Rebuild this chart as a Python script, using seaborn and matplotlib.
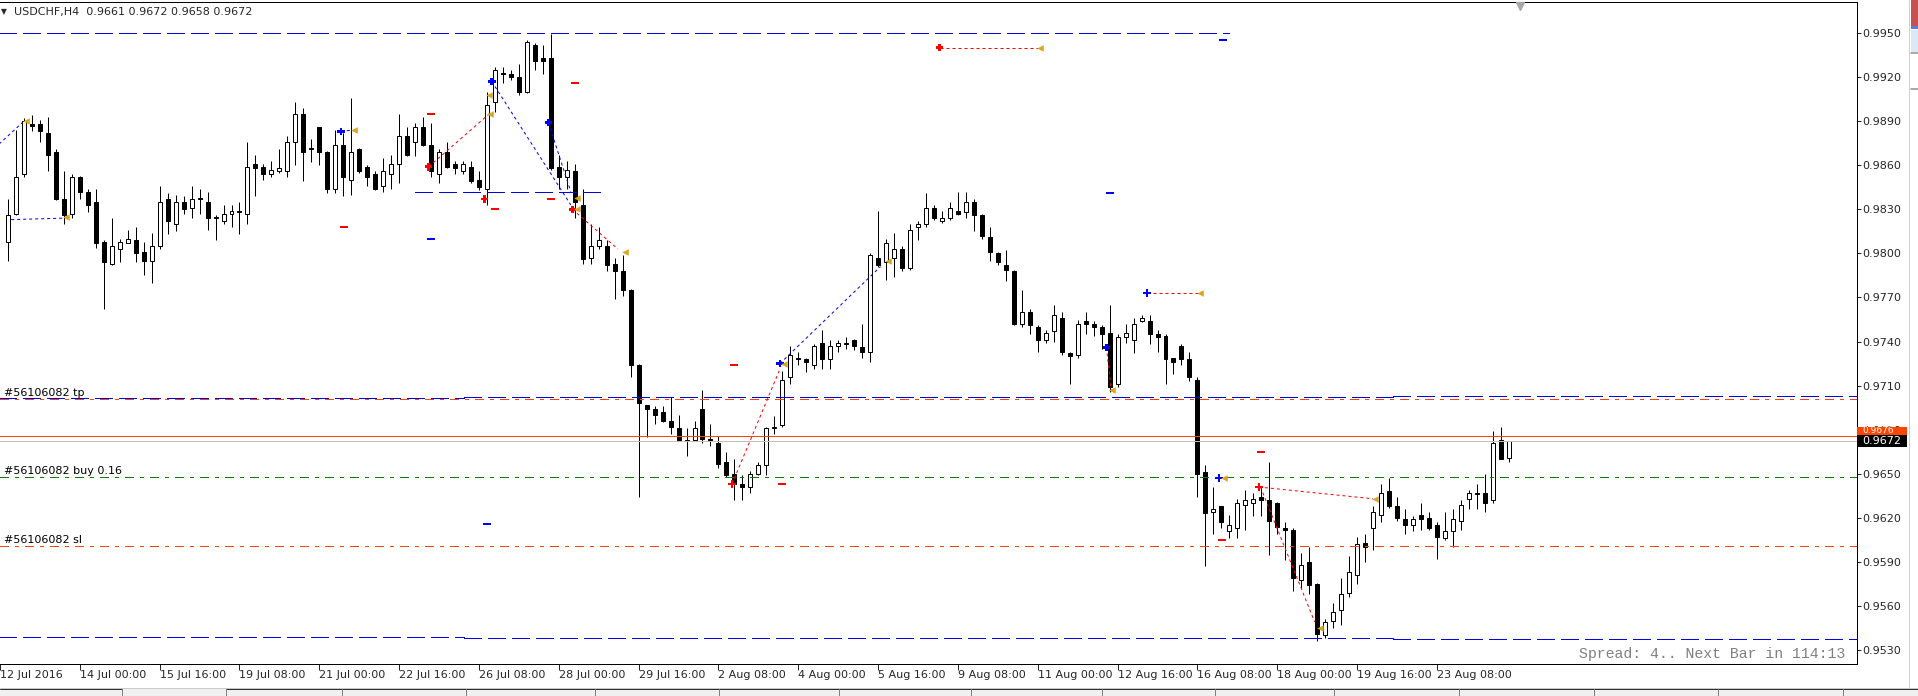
import numpy as np
import pandas as pd
import matplotlib
matplotlib.use("Agg")
import matplotlib.pyplot as plt
import matplotlib.transforms as mtransforms
from matplotlib.patches import Rectangle
from matplotlib.lines import Line2D
import seaborn as sns

# USDCHF H4 candles, bar index 0 = 14 Jul 2016 00:00
first_bar = -9
opens = [0.9808, 0.9827, 0.9854, 0.9888, 0.9888, 0.9882, 0.9869, 0.9837, 0.9827,
         0.9852, 0.9842, 0.9835, 0.9808, 0.9793, 0.9803, 0.9807, 0.9809, 0.9801, 0.9795,
         0.9805, 0.9837, 0.9820, 0.9835, 0.9831, 0.9838, 0.9835, 0.9825, 0.9822, 0.9827,
         0.9829, 0.9827, 0.9861, 0.9859, 0.9854, 0.9856, 0.9856, 0.9876, 0.9895, 0.9872,
         0.9886, 0.9869, 0.9844, 0.9874, 0.9850, 0.9871, 0.9859, 0.9854, 0.9846, 0.9854,
         0.9861, 0.9880, 0.9876, 0.9886, 0.9874, 0.9854, 0.9869, 0.9861, 0.9856, 0.9859,
         0.9850, 0.9844, 0.9903, 0.9923, 0.9922, 0.9920, 0.9910, 0.9942, 0.9933, 0.9933,
         0.9859, 0.9852, 0.9856, 0.9833, 0.9797, 0.9805, 0.9805, 0.9793, 0.9788, 0.9775,
         0.9724, 0.9697, 0.9694, 0.9692, 0.9686, 0.9681, 0.9673, 0.9673, 0.9694, 0.9674,
         0.9671, 0.9658, 0.9650, 0.9643, 0.9641, 0.9650, 0.9656, 0.9681, 0.9683, 0.9716,
         0.9729, 0.9728, 0.9724, 0.9739, 0.9728, 0.9737, 0.9739, 0.9741, 0.9736, 0.9733,
         0.9797, 0.9794, 0.9797, 0.9803, 0.9790, 0.9818, 0.9820, 0.9831, 0.9822, 0.9824,
         0.9829, 0.9828, 0.9835, 0.9826, 0.9811, 0.9800, 0.9792, 0.9788, 0.9752, 0.9760,
         0.9750, 0.9741, 0.9747, 0.9756, 0.9732, 0.9731, 0.9754, 0.9752, 0.9750, 0.9746,
         0.9711, 0.9743, 0.9741, 0.9754, 0.9754, 0.9745, 0.9744, 0.9729, 0.9737, 0.9728,
         0.9714, 0.9651, 0.9624, 0.9628, 0.9611, 0.9613, 0.9629, 0.9630, 0.9634, 0.9632,
         0.9630, 0.9613, 0.9612, 0.9578, 0.9590, 0.9575, 0.9540, 0.9550, 0.9557, 0.9569,
         0.9581, 0.9603, 0.9613, 0.9622, 0.9638, 0.9628, 0.9619, 0.9615, 0.9622, 0.9620,
         0.9615, 0.9606, 0.9611, 0.9618, 0.9633, 0.9637, 0.9637, 0.9632, 0.9673, 0.9661]
highs = [0.9837, 0.9884, 0.9892, 0.9894, 0.9891, 0.9893, 0.9871, 0.9856, 0.9854,
         0.9853, 0.9844, 0.9844, 0.9809, 0.9824, 0.9810, 0.9816, 0.9818, 0.9808, 0.9814,
         0.9846, 0.9841, 0.9840, 0.9839, 0.9846, 0.9844, 0.9842, 0.9826, 0.9833, 0.9833,
         0.9835, 0.9876, 0.9867, 0.9861, 0.9863, 0.9871, 0.9880, 0.9903, 0.9899, 0.9878,
         0.9886, 0.9870, 0.9884, 0.9882, 0.9906, 0.9872, 0.9860, 0.9856, 0.9865, 0.9867,
         0.9895, 0.9886, 0.9889, 0.9893, 0.9889, 0.9871, 0.9876, 0.9863, 0.9863, 0.9863,
         0.9856, 0.9910, 0.9927, 0.9927, 0.9925, 0.9929, 0.9945, 0.9943, 0.9942, 0.9949,
         0.9867, 0.9863, 0.9861, 0.9844, 0.9820, 0.9818, 0.9809, 0.9797, 0.9799, 0.9776,
         0.9725, 0.9697, 0.9696, 0.9696, 0.9702, 0.9690, 0.9681, 0.9686, 0.9707, 0.9684,
         0.9676, 0.9665, 0.9660, 0.9649, 0.9652, 0.9658, 0.9682, 0.9689, 0.9720, 0.9737,
         0.9733, 0.9729, 0.9738, 0.9748, 0.9741, 0.9741, 0.9743, 0.9742, 0.9752, 0.9800,
         0.9829, 0.9810, 0.9814, 0.9805, 0.9820, 0.9822, 0.9841, 0.9833, 0.9829, 0.9835,
         0.9842, 0.9842, 0.9837, 0.9827, 0.9818, 0.9801, 0.9802, 0.9789, 0.9775, 0.9762,
         0.9751, 0.9748, 0.9765, 0.9760, 0.9733, 0.9755, 0.9760, 0.9754, 0.9751, 0.9765,
         0.9745, 0.9752, 0.9756, 0.9758, 0.9758, 0.9748, 0.9745, 0.9729, 0.9738, 0.9733,
         0.9716, 0.9656, 0.9641, 0.9628, 0.9622, 0.9633, 0.9639, 0.9637, 0.9641, 0.9658,
         0.9631, 0.9617, 0.9613, 0.9596, 0.9600, 0.9576, 0.9551, 0.9562, 0.9579, 0.9594,
         0.9607, 0.9609, 0.9628, 0.9643, 0.9647, 0.9634, 0.9626, 0.9621, 0.9630, 0.9624,
         0.9617, 0.9624, 0.9626, 0.9632, 0.9639, 0.9643, 0.9650, 0.9679, 0.9682, 0.9672]
lows = [0.9795, 0.9826, 0.9852, 0.9883, 0.9876, 0.9856, 0.9836, 0.9820, 0.9824,
        0.9837, 0.9828, 0.9804, 0.9762, 0.9792, 0.9794, 0.9807, 0.9794, 0.9785, 0.9780,
        0.9803, 0.9813, 0.9815, 0.9827, 0.9824, 0.9827, 0.9816, 0.9809, 0.9820, 0.9818,
        0.9813, 0.9820, 0.9839, 0.9850, 0.9852, 0.9855, 0.9852, 0.9860, 0.9849, 0.9862,
        0.9860, 0.9841, 0.9841, 0.9839, 0.9840, 0.9855, 0.9846, 0.9843, 0.9842, 0.9844,
        0.9848, 0.9866, 0.9866, 0.9873, 0.9852, 0.9848, 0.9858, 0.9854, 0.9854, 0.9848,
        0.9843, 0.9833, 0.9896, 0.9916, 0.9918, 0.9908, 0.9909, 0.9925, 0.9922, 0.9857,
        0.9844, 0.9844, 0.9824, 0.9793, 0.9793, 0.9803, 0.9788, 0.9769, 0.9771, 0.9716,
        0.9634, 0.9675, 0.9684, 0.9685, 0.9677, 0.9672, 0.9662, 0.9672, 0.9671, 0.9669,
        0.9654, 0.9648, 0.9632, 0.9632, 0.9637, 0.9649, 0.9649, 0.9677, 0.9682, 0.9711,
        0.9724, 0.9719, 0.9721, 0.9721, 0.9721, 0.9733, 0.9735, 0.9734, 0.9729, 0.9726,
        0.9791, 0.9782, 0.9784, 0.9788, 0.9789, 0.9809, 0.9818, 0.9823, 0.9821, 0.9823,
        0.9826, 0.9824, 0.9815, 0.9810, 0.9795, 0.9792, 0.9781, 0.9751, 0.9750, 0.9745,
        0.9733, 0.9739, 0.9740, 0.9731, 0.9711, 0.9729, 0.9745, 0.9744, 0.9735, 0.9706,
        0.9709, 0.9739, 0.9732, 0.9753, 0.9738, 0.9733, 0.9711, 0.9718, 0.9724, 0.9713,
        0.9634, 0.9587, 0.9609, 0.9613, 0.9606, 0.9606, 0.9612, 0.9621, 0.9621, 0.9595,
        0.9609, 0.9591, 0.9570, 0.9572, 0.9568, 0.9536, 0.9538, 0.9545, 0.9547, 0.9566,
        0.9575, 0.9590, 0.9598, 0.9617, 0.9627, 0.9618, 0.9609, 0.9611, 0.9612, 0.9612,
        0.9592, 0.9605, 0.9600, 0.9612, 0.9626, 0.9626, 0.9624, 0.9630, 0.9660, 0.9658]
closes = [0.9826, 0.9852, 0.9890, 0.9887, 0.9883, 0.9867, 0.9837, 0.9826, 0.9852,
          0.9842, 0.9833, 0.9807, 0.9794, 0.9805, 0.9808, 0.9810, 0.9800, 0.9795, 0.9805,
          0.9835, 0.9822, 0.9835, 0.9830, 0.9837, 0.9837, 0.9824, 0.9824, 0.9827, 0.9829,
          0.9828, 0.9859, 0.9858, 0.9854, 0.9857, 0.9858, 0.9876, 0.9895, 0.9869, 0.9871,
          0.9869, 0.9844, 0.9874, 0.9852, 0.9869, 0.9856, 0.9852, 0.9844, 0.9856, 0.9861,
          0.9880, 0.9867, 0.9886, 0.9874, 0.9856, 0.9869, 0.9859, 0.9858, 0.9861, 0.9849,
          0.9845, 0.9901, 0.9925, 0.9922, 0.9920, 0.9910, 0.9944, 0.9931, 0.9931, 0.9858,
          0.9852, 0.9857, 0.9835, 0.9796, 0.9805, 0.9809, 0.9792, 0.9788, 0.9775, 0.9724,
          0.9698, 0.9694, 0.9690, 0.9686, 0.9682, 0.9673, 0.9672, 0.9681, 0.9674, 0.9673,
          0.9657, 0.9649, 0.9643, 0.9641, 0.9650, 0.9656, 0.9681, 0.9682, 0.9714, 0.9731,
          0.9728, 0.9726, 0.9737, 0.9728, 0.9737, 0.9739, 0.9738, 0.9737, 0.9733, 0.9799,
          0.9792, 0.9807, 0.9803, 0.9790, 0.9816, 0.9820, 0.9831, 0.9824, 0.9824, 0.9831,
          0.9827, 0.9835, 0.9826, 0.9812, 0.9801, 0.9794, 0.9789, 0.9752, 0.9760, 0.9751,
          0.9741, 0.9746, 0.9758, 0.9733, 0.9730, 0.9752, 0.9752, 0.9750, 0.9745, 0.9709,
          0.9743, 0.9746, 0.9752, 0.9756, 0.9745, 0.9743, 0.9728, 0.9726, 0.9728, 0.9716,
          0.9650, 0.9623, 0.9626, 0.9617, 0.9615, 0.9630, 0.9632, 0.9633, 0.9632, 0.9618,
          0.9614, 0.9612, 0.9579, 0.9588, 0.9574, 0.9541, 0.9549, 0.9556, 0.9568, 0.9583,
          0.9602, 0.9600, 0.9624, 0.9637, 0.9628, 0.9620, 0.9615, 0.9619, 0.9619, 0.9613,
          0.9607, 0.9611, 0.9619, 0.9629, 0.9637, 0.9636, 0.9630, 0.9671, 0.9660, 0.9672]

x_tick_bars = list(range(-10, 171, 10))
x_tick_labels = ["12 Jul 2016", "14 Jul 00:00", "15 Jul 16:00", "19 Jul 08:00", "21 Jul 00:00",
                 "22 Jul 16:00", "26 Jul 08:00", "28 Jul 00:00", "29 Jul 16:00", "2 Aug 08:00",
                 "4 Aug 00:00", "5 Aug 16:00", "9 Aug 08:00", "11 Aug 00:00", "12 Aug 16:00",
                 "16 Aug 08:00", "18 Aug 00:00", "19 Aug 16:00", "23 Aug 08:00"]
y_ticks = [0.9530, 0.9560, 0.9590, 0.9620, 0.9650, 0.9680, 0.9710, 0.9740, 0.9770,
           0.9800, 0.9830, 0.9860, 0.9890, 0.9920, 0.9950]

# order lines
tp_price = 0.9701
buy_price = 0.9648
sl_price = 0.9601
ask_price = 0.9676
bid_price = 0.9672

# blue dashed channel / level objects
level_x0 = [-12.0, -12.0, 48.1, 164.5, -12.0, 48.1, 164.5, 42.0]
level_x1 = [144.0, 48.1, 164.5, 230.0, 48.1, 164.5, 230.0, 65.3]
level_p = [0.9950, 0.97014, 0.97021, 0.97028, 0.95387, 0.95380, 0.95374, 0.9842]

# trade history (open -> close)
trade_x0 = [-11.0, -8.6, 32.7, 43.7, 51.6, 58.7, 61.7, 81.7, 87.7, 107.7, 128.6, 133.7, 142.7, 147.7, 147.9]
trade_p0 = [0.9870, 0.9823, 0.9883, 0.9859, 0.9917, 0.9889, 0.9830, 0.9643, 0.9725, 0.9940, 0.9736, 0.9773, 0.9647, 0.9641, 0.9641]
trade_x1 = [-7.2, -2.0, 34.2, 51.3, 61.5, 61.5, 67.4, 87.6, 100.3, 120.1, 129.2, 140.1, 143.1, 162.0, 154.7]
trade_p1 = [0.9889, 0.9824, 0.9884, 0.9895, 0.9833, 0.9842, 0.9803, 0.9720, 0.9791, 0.9940, 0.9707, 0.9773, 0.9647, 0.9633, 0.9549]
trade_side = ["buy", "buy", "buy", "sell", "buy", "buy", "sell", "sell", "buy", "sell", "sell", "sell", "buy", "sell", "sell"]

open_x = [32.7, 43.7, 50.7, 51.6, 58.7, 61.7, 81.7, 87.7, 107.7, 128.6, 133.7, 142.7, 147.7]
open_p = [0.9883, 0.9859, 0.9837, 0.9917, 0.9889, 0.9830, 0.9643, 0.9725, 0.9940, 0.9736, 0.9773, 0.9647, 0.9641]
open_side = ["buy", "sell", "sell", "buy", "buy", "sell", "sell", "buy", "sell", "buy", "buy", "buy", "sell"]

close_x = [-6.7, -1.7, 34.3, 51.4, 51.2, 62.25, 62.25, 68.25, 88.2, 101.3, 120.25, 129.3, 140.3, 143.3, 155.4, 162.25]
close_p = [0.9890, 0.9825, 0.9884, 0.9895, 0.9908, 0.9838, 0.9830, 0.9801, 0.9725, 0.9795, 0.9940, 0.9707, 0.9773, 0.9647, 0.9545, 0.9633]

stop_x = [33.1, 44.0, 52.0, 59.0, 62.0, 82.0, 88.0, 143.1, 148.0]
stop_p = [0.9818, 0.9895, 0.9830, 0.9837, 0.9916, 0.9724, 0.9643, 0.9605, 0.9665]
target_x = [44.0, 51.0, 129.0, 143.2]
target_p = [0.9810, 0.9616, 0.9841, 0.9945]

W, H = 1918, 696
BLUE = "#0000e6"
ORANGE = "#ff4500"
GREEN = "#008000"
GOLD = "#daa520"
PX = 0.72  # one pixel in points

sns.set_style("white")
plt.rcParams["font.family"] = ["DejaVu Sans"]
plt.rcParams["lines.scale_dashes"] = False
DASH = (0, (18 * PX, 6 * PX))
DASHDOT = (0, (9 * PX, 6 * PX, 3 * PX, 6 * PX))
DOT = (0, (3 * PX, 3 * PX))

fig = plt.figure(figsize=(W / 100, H / 100), dpi=100)
ax = fig.add_axes([0, 32 / H, 1856.5 / W, 662.5 / H])
ax.set_xlim(-9.5, 222.56)
ax.set_ylim(0.952054, 0.997144)

df = pd.DataFrame({"open": opens, "high": highs, "low": lows, "close": closes})
df["bar"] = np.arange(first_bar, first_bar + len(df))
df["lo"] = df[["open", "close"]].min(axis=1)
df["h"] = (df["close"] - df["open"]).abs().clip(lower=0.00001)
up = df["close"] >= df["open"]

ax.vlines(df["bar"], df["low"], df["high"], color="black", lw=PX, zorder=2)
ax.bar(df.loc[up, "bar"], df.loc[up, "h"], bottom=df.loc[up, "lo"], width=0.5,
       color="white", edgecolor="black", linewidth=PX, zorder=3)
ax.bar(df.loc[~up, "bar"], df.loc[~up, "h"], bottom=df.loc[~up, "lo"], width=0.5,
       color="black", edgecolor="black", linewidth=PX, zorder=3)

# horizontal objects
ax.hlines(level_p, level_x0, level_x1, colors=BLUE, lw=PX, linestyles=[DASH],
          antialiased=False, zorder=4)
ax.axhline(tp_price, color=ORANGE, lw=PX, ls=DASHDOT, antialiased=False, zorder=4)
ax.axhline(buy_price, color=GREEN, lw=PX, ls=DASHDOT, antialiased=False, zorder=4)
ax.axhline(sl_price, color=ORANGE, lw=PX, ls=DASHDOT, antialiased=False, zorder=4)
ax.axhline(ask_price, color=ORANGE, lw=PX, antialiased=False, zorder=4)
ax.axhline(bid_price, color="#c0c0c0", lw=PX, antialiased=False, zorder=4)

# trade history
for x0, p0, x1, p1, side in zip(trade_x0, trade_p0, trade_x1, trade_p1, trade_side):
    ax.plot([x0, x1], [p0, p1], color=BLUE if side == "buy" else "#ff0000",
            lw=PX, ls=DOT, zorder=5)

sns.scatterplot(x=open_x, y=open_p, hue=open_side, palette={"buy": "#0000ff", "sell": "#ff0000"},
                marker="P", s=30, linewidth=0, legend=False, ax=ax, zorder=6)
sns.scatterplot(x=close_x, y=close_p, color=GOLD, marker="<", s=22, linewidth=0,
                legend=False, ax=ax, zorder=6)
sns.scatterplot(x=stop_x, y=stop_p, color="#ff0000", marker="_", s=30, linewidth=2 * PX,
                legend=False, ax=ax, zorder=6)
sns.scatterplot(x=target_x, y=target_p, color="#0000ff", marker="_", s=30, linewidth=2 * PX,
                legend=False, ax=ax, zorder=6)

# order line labels
trans = mtransforms.blended_transform_factory(ax.transAxes, ax.transData)
for txt, p in [("#56106082 tp", tp_price), ("#56106082 buy 0.16", buy_price),
               ("#56106082 sl", sl_price)]:
    ax.annotate(txt, xy=(0, p), xycoords=trans, xytext=(3.5 * PX, 2.5 * PX),
                textcoords="offset points", va="baseline", ha="left", fontsize=8, color="black")

# axes styling
for side in ["top", "right", "bottom"]:
    ax.spines[side].set_color("black")
    ax.spines[side].set_linewidth(PX)
ax.spines["left"].set_visible(False)
ax.set_xticks(x_tick_bars)
ax.set_xticklabels(x_tick_labels, ha="left", fontsize=8)
ax.set_yticks(y_ticks)
ax.set_yticklabels([f"{v:.4f}" for v in y_ticks], fontsize=8)
ax.tick_params(axis="x", bottom=True, direction="out", length=5.5 * PX, width=PX, pad=0.5)
ax.tick_params(axis="y", left=False, right=True, labelleft=False, labelright=True,
               direction="out", length=4 * PX, width=PX, pad=2 * PX)
ax.set_xlabel("")
ax.set_ylabel("")

# price tags on the right axis: the ask tag sits half hidden behind the bid tag
ppx = (ax.get_ylim()[1] - ax.get_ylim()[0]) / 662.5
ax.add_patch(Rectangle((1 + 0.5 / 1856.5, ask_price - 3 * ppx), 50 / 1856.5, 12 * ppx,
                       transform=trans, facecolor=ORANGE, edgecolor="none",
                       clip_on=False, zorder=10))
ax.text(1 + 6 / 1856.5, ask_price + 5 * ppx, f"{ask_price:.4f}", transform=trans,
        va="center", ha="left", fontsize=6.5, color="white", clip_on=False, zorder=11)
ax.add_patch(Rectangle((1 + 0.5 / 1856.5, bid_price - 6 * ppx), 50 / 1856.5, 12 * ppx,
                       transform=trans, facecolor="black", edgecolor="none",
                       clip_on=False, zorder=12))
ax.text(1 + 6 / 1856.5, bid_price, f"{bid_price:.4f}", transform=trans, va="center",
        ha="left", fontsize=8, color="white", clip_on=False, zorder=13)

# chart-shift marker
shift = mtransforms.blended_transform_factory(ax.transData, ax.transAxes)
ax.plot([180.4], [1 - 4 / 662.5], transform=shift, marker="v", ms=8 * PX,
        color="#a8a8a8", clip_on=False, zorder=10)

# header and status text
last = df.iloc[-1]
fig.text(1 / W, 1 - 12 / H, "\u25bc", fontsize=5.5, va="center", ha="left")
fig.text(14 / W, 1 - 12 / H,
         f"USDCHF,H4  {last['open']:.4f} {last['high']:.4f} {last['low']:.4f} {last['close']:.4f}",
         fontsize=8, va="center", ha="left")
fig.text(1845 / W, 1 - 654 / H, "Spread: 4.. Next Bar in 114:13", family="Liberation Mono",
         fontsize=10.7, color="#808080", va="center", ha="right")

# window chrome: tab strip and right side panel
fig.add_artist(Rectangle((0, 0), 1, 8 / H, transform=fig.transFigure,
                         facecolor="#f0f0f0", edgecolor="none"))
fig.add_artist(Line2D([0, 1], [8 / H, 8 / H], transform=fig.transFigure, color="#c8c8c8", lw=PX))
fig.add_artist(Line2D([0, 122 / W], [7 / H, 7 / H], transform=fig.transFigure, color="#303030", lw=PX))
fig.add_artist(Line2D([226 / W, 1], [7 / H, 7 / H], transform=fig.transFigure, color="#303030", lw=PX))
for sx in [122, 226, 342, 466, 595, 719, 839, 971, 1102, 1215, 1334, 1459, 1594, 1718, 1843]:
    fig.add_artist(Line2D([sx / W, sx / W], [0, 7 / H], transform=fig.transFigure,
                          color="#808080", lw=PX))
fig.add_artist(Line2D([1909 / W, 1909 / W], [8 / H, 1], transform=fig.transFigure,
                      color="#d0d0d0", lw=PX))
fig.add_artist(Rectangle((1911 / W, 1 - 26 / H), 7 / W, 26 / H, transform=fig.transFigure,
                         facecolor="#c85050", edgecolor="none"))
fig.add_artist(Rectangle((1911 / W, 1 - 29 / H), 7 / W, 3 / H, transform=fig.transFigure,
                         facecolor="#5a7fd8", edgecolor="none"))
fig.add_artist(Rectangle((1911 / W, 1 - 52 / H), 7 / W, 22 / H, transform=fig.transFigure,
                         facecolor="#dde8f5", edgecolor="none"))
for gy in [53, 89]:
    fig.add_artist(Line2D([1911 / W, 1], [1 - gy / H, 1 - gy / H], transform=fig.transFigure,
                          color="#909090", lw=1.5 * PX))

fig.savefig("out.png", dpi=100, facecolor="white")
